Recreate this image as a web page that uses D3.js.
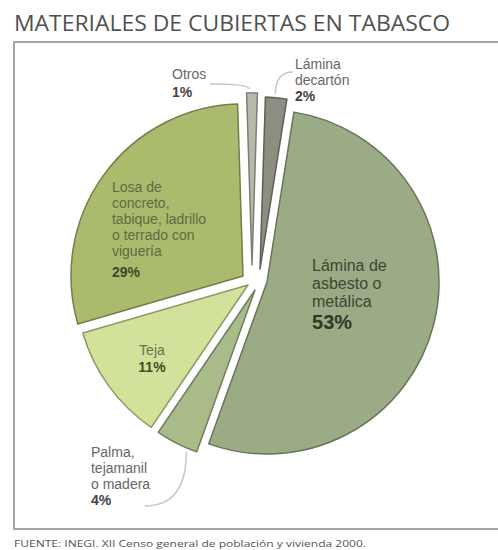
<!DOCTYPE html>
<html><head><meta charset="utf-8">
<script src="https://cdn.jsdelivr.net/npm/d3@7"></script>
<style>body{margin:0;background:#fff}svg{display:block}</style>
</head><body><svg id="c" width="498" height="550"></svg>
<script>
// ---- data ----
const categories = ["Lámina de cartón","Lámina de asbesto o metálica","Palma, tejamanil o madera","Teja","Losa de concreto, tabique, ladrillo o terrado con viguería","Otros"];
const values = [2, 53, 4, 11, 29, 1];
const labelLines = [["Lámina","decartón"],["Lámina de","asbesto o","metálica"],["Palma,","tejamanil","o madera"],["Teja"],["Losa de","concreto,","tabique, ladrillo","o terrado con","viguería"],["Otros"]];
const pctLabels = values.map(v => v + "%");
const title = "MATERIALES DE CUBIERTAS EN TABASCO";
const source = "FUENTE: INEGI. XII Censo general de población y vivienda 2000.";

// ---- style ----
const colors = ["#8d8d80","#9bab86","#a8bb89","#d3e29a","#aabb6e","#b9b9ab"];
const explode = [[5,-9],[12,4],[0,12],[-7,7],[-12,-2],[-3,-13]];
const labelStyle = [
  {type:"out", dx:18.4, dy:-24.8, lx:16.4, ly:-21.8, lh:16, pg:16, tx:0.45},
  {type:"in", dx:-46.6, dy:-34.5, anchor:"start", size:16, psize:20, lh:17.8, pg:22.5, color:"#3c4733", pcolor:"#2f3828"},
  {type:"out", dx:-84.1, dy:10.2, lx:-30.1, ly:59.2, lh:16, pg:16, tx:0.22},
  {type:"in", dx:-19.5, dy:14.4, anchor:"middle", size:14, psize:14, lh:16, pg:17, color:"#66724c", pcolor:"#434d2b"},
  {type:"in", dx:-54.5, dy:-28.4, anchor:"start", size:14, psize:14, lh:16, pg:21, color:"#5f6b42", pcolor:"#3f4828"},
  {type:"out", dx:-80, dy:-10, lx:-42, ly:-5, lh:16, pg:18, tx:0.25}
];
const W = 498, H = 550;
const C = [255, 278];
const R = 172;
const startA = 1.8 * Math.PI / 180;
const TFONT = "'Open Sans', 'Noto Sans', sans-serif";
const FONT = "'Liberation Sans', Arial, sans-serif";

const svg = d3.select("#c");
svg.append("rect").attr("width", W).attr("height", H).attr("fill", "#fff");

svg.append("text").attr("x", 14).attr("y", 31)
  .attr("font-family", TFONT).attr("font-size", 22).attr("fill", "#505050")
  .attr("textLength", 436).attr("lengthAdjust", "spacingAndGlyphs")
  .text(title);

svg.append("rect").attr("x", 14).attr("y", 42).attr("width", 500).attr("height", 487)
  .attr("fill", "none").attr("stroke", "#a5a5a5").attr("stroke-width", 2);

svg.append("text").attr("x", 14).attr("y", 547)
  .attr("font-family", TFONT).attr("font-size", 9).attr("fill", "#555")
  .attr("textLength", 352).attr("lengthAdjust", "spacingAndGlyphs")
  .text(source);

const pie = d3.pie().sort(null).value(d => d).startAngle(startA).endAngle(startA + 2 * Math.PI);
const arcs = pie(values);
const arc = d3.arc().innerRadius(0).outerRadius(R);
const labelArc = d3.arc().innerRadius(0.55 * R * 2).outerRadius(0); // centroid at 0.55R
const rimArc = d3.arc().innerRadius(R + 4).outerRadius(R + 4);

const slices = svg.append("g");
arcs.forEach((d, i) => {
  const ox = C[0] + explode[i][0], oy = C[1] + explode[i][1];
  slices.append("path")
    .attr("transform", `translate(${ox},${oy})`)
    .attr("d", arc(d))
    .attr("fill", colors[i])
    .attr("stroke", d3.color(colors[i]).darker(1.1))
    .attr("stroke-width", 1.5)
    .attr("stroke-linejoin", "round");
});

const labels = svg.append("g").attr("font-family", FONT);
arcs.forEach((d, i) => {
  const st = labelStyle[i];
  const ox = C[0] + explode[i][0], oy = C[1] + explode[i][1];
  if (st.type === "in") {
    const c = labelArc.centroid(d);
    const x = ox + c[0] + st.dx, y = oy + c[1] + st.dy;
    labelLines[i].forEach((ln, k) => {
      labels.append("text").attr("x", x).attr("y", y + k * st.lh).attr("text-anchor", st.anchor)
        .attr("font-size", st.size).attr("fill", st.color).text(ln);
    });
    labels.append("text").attr("x", x).attr("y", y + (labelLines[i].length - 1) * st.lh + st.pg)
      .attr("text-anchor", st.anchor)
      .attr("font-size", st.psize).attr("font-weight", "bold").attr("fill", st.pcolor).text(pctLabels[i]);
  } else {
    const c = rimArc.centroid(d);
    const a = d.startAngle + (d.endAngle - d.startAngle) * st.tx;
    const rx = ox + (R + 4) * Math.sin(a), ry = oy - (R + 4) * Math.cos(a);
    const cx0 = ox + c[0], cy0 = oy + c[1];
    const sx = cx0 + st.lx, sy = cy0 + st.ly;
    labels.append("path")
      .attr("d", `M${sx},${sy} Q${rx},${sy} ${rx},${ry}`)
      .attr("fill", "none").attr("stroke", "#c6c6c6").attr("stroke-width", 1.5);
    const x = cx0 + st.dx, y = cy0 + st.dy;
    labelLines[i].forEach((ln, k) => {
      labels.append("text").attr("x", x).attr("y", y + k * st.lh)
        .attr("font-size", 14).attr("fill", "#666").text(ln);
    });
    labels.append("text").attr("x", x).attr("y", y + (labelLines[i].length - 1) * st.lh + st.pg)
      .attr("font-size", 14).attr("font-weight", "bold").attr("fill", "#444").text(pctLabels[i]);
  }
});
</script>
</body></html>
